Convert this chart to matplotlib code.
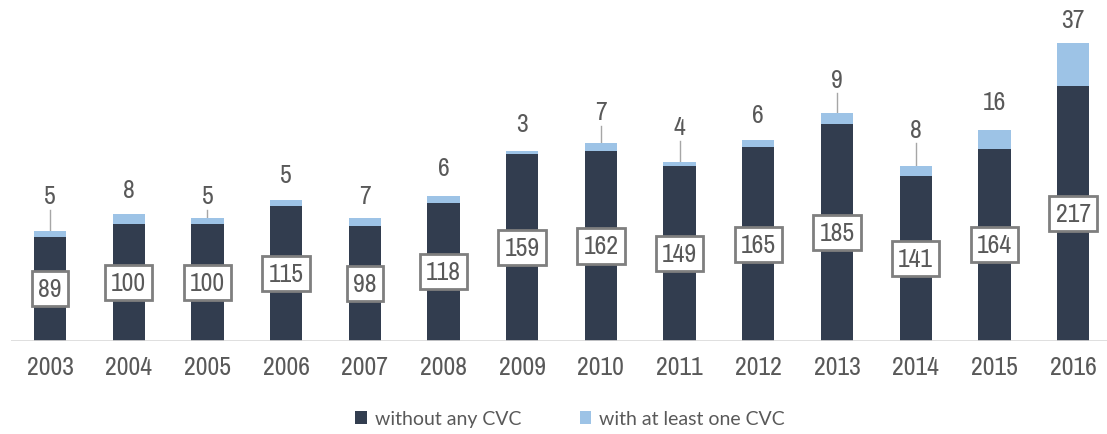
import matplotlib
matplotlib.use("Agg")
import matplotlib.pyplot as plt
from matplotlib import font_manager
import numpy as np

# data
years = ["2003", "2004", "2005", "2006", "2007", "2008", "2009",
         "2010", "2011", "2012", "2013", "2014", "2015", "2016"]
without_cvc = [89, 100, 100, 115, 98, 118, 159, 162, 149, 165, 185, 141, 164, 217]
with_cvc = [5, 8, 5, 5, 7, 6, 3, 7, 4, 6, 9, 8, 16, 37]

# how far (pixels) each top label sits above its bar, as placed in the original
label_gap_px = [35, 25, 22, 26, 22, 28, 27, 31, 35, 26, 34, 37, 28, 24]

dark = "#323D4F"
light = "#9DC3E6"
grey_txt = "#595959"

# look for a narrow / condensed sans face (original uses Arial Narrow),
# preferring a light weight since Arial Narrow strokes are thin
fonts = [f for f in font_manager.fontManager.ttflist if f.style == "normal"]
pick = None
for f in fonts:
    if "Narrow" in f.name and f.weight in (400, "normal"):
        pick = f.fname
        break
for wanted in (300, 400):
    if pick is not None:
        break
    for f in fonts:
        if f.stretch in ("condensed", "semi-condensed") and f.weight == wanted:
            pick = f.fname
            break
if pick is None:
    narrow = font_manager.FontProperties(family="Liberation Sans")
else:
    narrow = font_manager.FontProperties(fname=pick)
narrow.set_size(18.5)

fig = plt.figure(figsize=(11.07, 4.35), dpi=100)
ax = fig.add_axes([0.0, 1 - 342 / 435, 1.0, 342 / 435])

x = np.arange(len(years))
ax.bar(x, without_cvc, width=0.41, color=dark, label="without any CVC", zorder=2)
ax.bar(x, with_cvc, width=0.41, bottom=without_cvc, color=light,
       label="with at least one CVC", zorder=2)

px_per_unit = 1.173
ax.set_xlim(-50 / 78.7, 1057 / 78.7)
ax.set_ylim(0, 342 / px_per_unit)
ax.hlines(0, -0.5, 13.5, color="#D9D9D9", lw=1.2, zorder=3)

for i in range(len(years)):
    # boxed label in the middle of the dark part
    ax.text(i, without_cvc[i] / 2, str(without_cvc[i]), ha="center", va="center",
            fontproperties=narrow, color=grey_txt, zorder=4,
            bbox=dict(boxstyle="square,pad=0.24", fc="white", ec="#7F7F7F", lw=2))
    # top label, with a leader line where it sits far from the bar
    total = without_cvc[i] + with_cvc[i]
    ly = total + label_gap_px[i] / px_per_unit
    ax.text(i, ly, str(with_cvc[i]), ha="center", va="center",
            fontproperties=narrow, color=grey_txt, zorder=4)
    if label_gap_px[i] > 29 or i == 2:
        y0 = ly - 14 / px_per_unit
        ax.plot([i, i], [y0, total], color="#A6A6A6", lw=1, zorder=1)

ax.set_xticks(x)
ax.set_xticklabels(years, fontproperties=narrow, color=grey_txt)
ax.tick_params(axis="x", length=0, pad=10)
ax.set_yticks([])
for s in ax.spines.values():
    s.set_visible(False)

leg = fig.legend(loc="lower center", bbox_to_anchor=(0.515, -0.025), ncol=2, frameon=False,
                 prop={"family": "Lato", "size": 14}, handlelength=0.6,
                 handleheight=0.6, handletextpad=0.4, columnspacing=3.0)
for t in leg.get_texts():
    t.set_color(grey_txt)

fig.savefig("out.png", dpi=100)
